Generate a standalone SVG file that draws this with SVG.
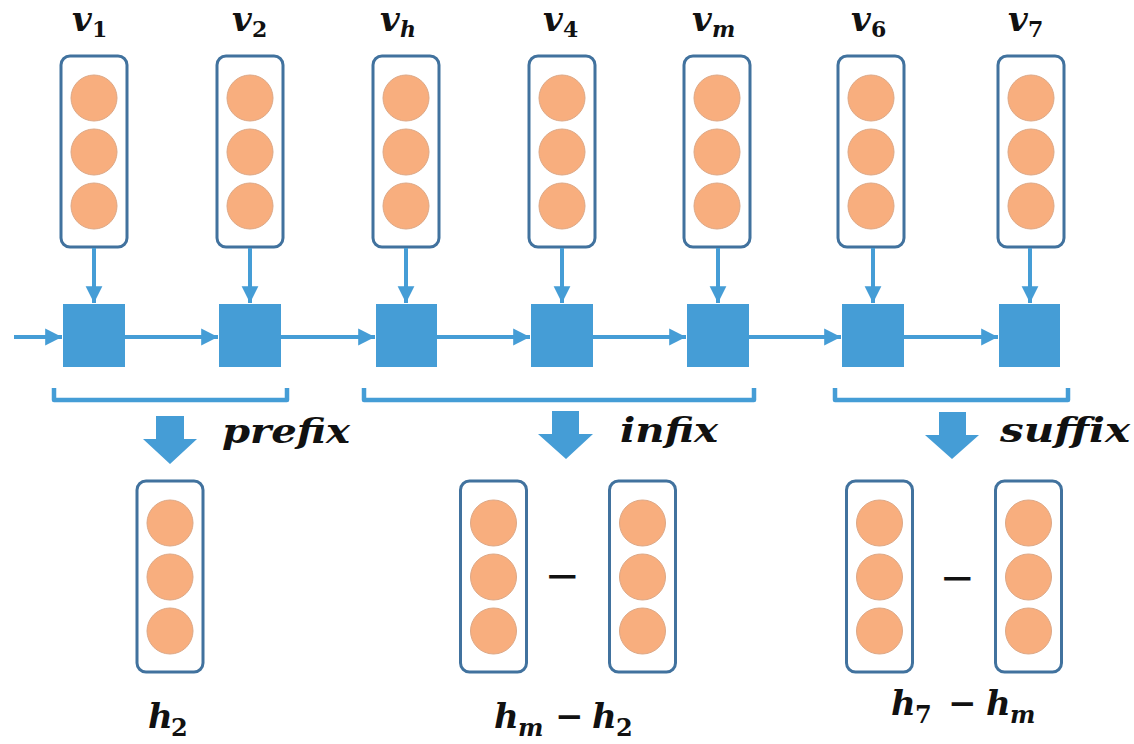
<svg xmlns="http://www.w3.org/2000/svg" width="1134" height="744" viewBox="0 0 1134 744">
<style>
.vec{fill:#fff;stroke:#41729E;stroke-width:3}
.dot{fill:#F8AE7E;stroke:#DDA886;stroke-width:1}
.cell{fill:#459DD6}
.ln{stroke:#459DD6;stroke-width:4;fill:none}
.br{stroke:#459DD6;stroke-width:4.5;fill:none;stroke-linejoin:round}
.fat{fill:#459DD6}
.m{font-family:"DejaVu Serif","Liberation Serif",serif;font-weight:bold;font-style:italic;fill:#111}
.d{font-style:normal}
.op{font-family:"DejaVu Serif","Liberation Serif",serif;font-weight:normal;fill:#111}
.s{font-size:22px}
.s2{font-size:24px}
</style>
<defs>
<marker id="ah" markerWidth="5" markerHeight="5" refX="4.2" refY="2.5" orient="auto" markerUnits="strokeWidth">
<path d="M0,0.4 L4.2,2.5 L0,4.6 Z" fill="#459DD6"/>
</marker>
<g id="stack">
<rect class="vec" x="-33" y="0" width="66" height="191" rx="9"/>
<circle class="dot" cx="0" cy="42" r="23"/>
<circle class="dot" cx="0" cy="96" r="23"/>
<circle class="dot" cx="0" cy="150" r="23"/>
</g>
</defs>

<g id="inputs">
<g id="v1"><use href="#stack" x="94" y="56"/><text class="m" x="72" y="31" font-size="34">v<tspan class="d s" x="92" y="37">1</tspan></text></g>
<g id="v2"><use href="#stack" x="250" y="56"/><text class="m" x="232" y="31" font-size="34">v<tspan class="d s" x="252" y="37">2</tspan></text></g>
<g id="vh"><use href="#stack" x="406" y="56"/><text class="m" x="380" y="31" font-size="34">v<tspan class="s" x="400" y="37">h</tspan></text></g>
<g id="v4"><use href="#stack" x="562" y="56"/><text class="m" x="543" y="31" font-size="34">v<tspan class="d s" x="563" y="37">4</tspan></text></g>
<g id="vm"><use href="#stack" x="717" y="56"/><text class="m" x="692" y="31" font-size="34">v<tspan class="s" x="712" y="37">m</tspan></text></g>
<g id="v6"><use href="#stack" x="871" y="56"/><text class="m" x="851" y="31" font-size="34">v<tspan class="d s" x="871" y="37">6</tspan></text></g>
<g id="v7"><use href="#stack" x="1031" y="56"/><text class="m" x="1008" y="31" font-size="34">v<tspan class="d s" x="1028" y="37">7</tspan></text></g>
</g>

<g id="cells">
<rect id="c1" class="cell" x="63" y="304" width="62" height="63"/>
<rect id="c2" class="cell" x="219" y="304" width="62" height="63"/>
<rect id="c3" class="cell" x="376" y="304" width="61" height="63"/>
<rect id="c4" class="cell" x="531" y="304" width="62" height="63"/>
<rect id="c5" class="cell" x="687" y="304" width="62" height="63"/>
<rect id="c6" class="cell" x="842" y="304" width="62" height="63"/>
<rect id="c7" class="cell" x="999" y="304" width="61" height="63"/>
</g>

<g id="connectors">
<line class="ln" x1="94" y1="248" x2="94" y2="303" marker-end="url(#ah)"/>
<line class="ln" x1="250" y1="248" x2="250" y2="303" marker-end="url(#ah)"/>
<line class="ln" x1="406" y1="248" x2="406" y2="303" marker-end="url(#ah)"/>
<line class="ln" x1="562" y1="248" x2="562" y2="303" marker-end="url(#ah)"/>
<line class="ln" x1="718" y1="248" x2="718" y2="303" marker-end="url(#ah)"/>
<line class="ln" x1="873" y1="248" x2="873" y2="303" marker-end="url(#ah)"/>
<line class="ln" x1="1030" y1="248" x2="1030" y2="303" marker-end="url(#ah)"/>
<line class="ln" x1="14" y1="337" x2="62" y2="337" marker-end="url(#ah)"/>
<line class="ln" x1="125" y1="337" x2="218" y2="337" marker-end="url(#ah)"/>
<line class="ln" x1="281" y1="337" x2="375" y2="337" marker-end="url(#ah)"/>
<line class="ln" x1="437" y1="337" x2="530" y2="337" marker-end="url(#ah)"/>
<line class="ln" x1="593" y1="337" x2="686" y2="337" marker-end="url(#ah)"/>
<line class="ln" x1="749" y1="337" x2="841" y2="337" marker-end="url(#ah)"/>
<line class="ln" x1="904" y1="337" x2="998" y2="337" marker-end="url(#ah)"/>
</g>

<g id="brackets">
<path class="br" d="M54,388 V400 H287 V388"/>
<path class="br" d="M364,388 V400 H754 V388"/>
<path class="br" d="M835,388 V400 H1068 V388"/>
<polygon class="fat" points="156,416 184,416 184,439 197,439 170,464 143,439 156,439"/>
<polygon class="fat" points="552,411 579,411 579,434 593,434 566,459 538,434 552,434"/>
<polygon class="fat" points="939,412 966,412 966,435 979,435 952,459 925,435 939,435"/>
<text class="m" x="222" y="443" font-size="34" textLength="128" lengthAdjust="spacingAndGlyphs">prefix</text>
<text class="m" x="620" y="442" font-size="34" textLength="98" lengthAdjust="spacingAndGlyphs">infix</text>
<text class="m" x="1000" y="442" font-size="34" textLength="130" lengthAdjust="spacingAndGlyphs">suffix</text>
</g>

<g id="prefix-out">
<use href="#stack" x="170" y="481"/>
<text class="m" x="148" y="728" font-size="34">h<tspan class="d s2" x="171" y="736">2</tspan></text>
</g>
<g id="infix-out">
<use href="#stack" x="493.5" y="481"/>
<use href="#stack" x="642.5" y="481"/>
<text class="op" x="562" y="590" font-size="42" text-anchor="middle">−</text>
<text class="m" x="494" y="728" font-size="34">h<tspan class="s2" x="518" y="736">m</tspan><tspan class="d" x="555" y="728">−</tspan><tspan x="592" y="728">h</tspan><tspan class="d s2" x="616" y="736">2</tspan></text>
</g>
<g id="suffix-out">
<use href="#stack" x="879.5" y="481"/>
<use href="#stack" x="1028.5" y="481"/>
<text class="op" x="957" y="592" font-size="42" text-anchor="middle">−</text>
<text class="m" x="891" y="715" font-size="34">h<tspan class="d s2" x="915" y="723">7</tspan><tspan class="d" x="948" y="715">−</tspan><tspan x="986" y="715">h</tspan><tspan class="s2" x="1010" y="723">m</tspan></text>
</g>
</svg>
